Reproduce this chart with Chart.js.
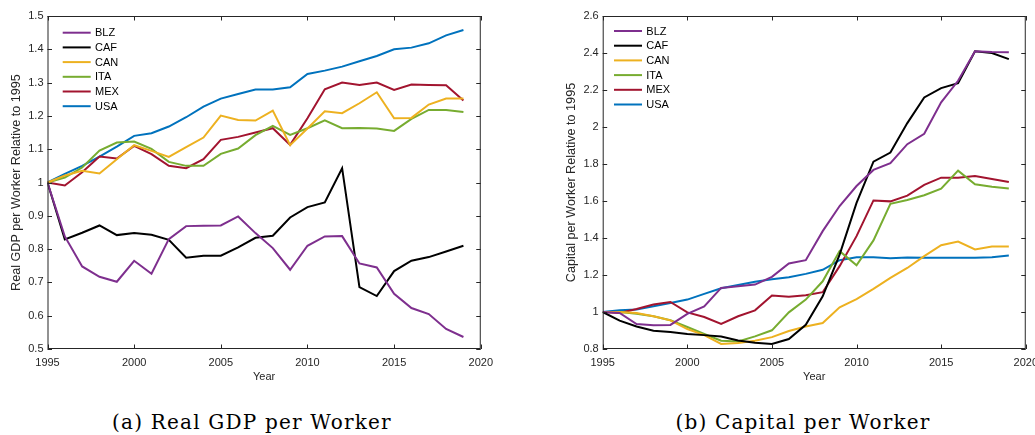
<!DOCTYPE html>
<html>
<head>
<meta charset="utf-8">
<script src="https://cdn.jsdelivr.net/npm/chart.js@4"></script>
<style>
  html, body { margin: 0; padding: 0; background: #fff; }
  body { width: 1035px; height: 435px; overflow: hidden; position: relative; }
  .panel { position: absolute; top: 0; width: 500px; height: 400px; }
  .caption {
    position: absolute; top: 410px; width: 400px; height: 25px; line-height: 25px;
    text-align: center; font-family: "DejaVu Serif", serif; font-size: 20px;
    letter-spacing: 1.2px; color: #000; white-space: nowrap;
  }
</style>
</head>
<body>
<div class="panel" style="left:0"><canvas id="gdp"></canvas></div>
<div class="panel" style="left:545px"><canvas id="capital"></canvas></div>
<div class="caption" style="left:52px">(a) Real GDP per Worker</div>
<div class="caption" style="left:603px">(b) Capital per Worker</div>
<script>
// years and countries
const years = [1995, 1996, 1997, 1998, 1999, 2000, 2001, 2002, 2003, 2004, 2005, 2006, 2007,
               2008, 2009, 2010, 2011, 2012, 2013, 2014, 2015, 2016, 2017, 2018, 2019];
const countries = ['BLZ', 'CAF', 'CAN', 'ITA', 'MEX', 'USA'];
const colores = ['#7E2F8E', '#000000', '#EDB120', '#77AC30', '#A2142F', '#0072BD'];

// real GDP per worker, 1995 = 1
const gdpBLZ = [1.000, 0.838, 0.748, 0.717, 0.702, 0.765, 0.726, 0.830, 0.869, 0.870, 0.871, 0.898, 0.848,
                0.803, 0.738, 0.810, 0.838, 0.839, 0.757, 0.745, 0.666, 0.623, 0.605, 0.560, 0.536];
const gdpCAF = [1.000, 0.829, 0.849, 0.871, 0.842, 0.848, 0.843, 0.828, 0.774, 0.780, 0.780, 0.805, 0.834,
                0.840, 0.895, 0.926, 0.940, 1.043, 0.686, 0.659, 0.734, 0.765, 0.776, 0.793, 0.810];
const gdpCAN = [1.000, 1.021, 1.035, 1.027, 1.070, 1.112, 1.095, 1.077, 1.106, 1.135, 1.201, 1.188, 1.186,
                1.216, 1.112, 1.162, 1.214, 1.208, 1.238, 1.271, 1.193, 1.194, 1.234, 1.252, 1.252];
const gdpITA = [1.000, 1.015, 1.045, 1.096, 1.120, 1.123, 1.101, 1.062, 1.050, 1.050, 1.086, 1.102, 1.142,
                1.170, 1.143, 1.163, 1.187, 1.163, 1.164, 1.162, 1.155, 1.191, 1.218, 1.218, 1.212];
const gdpMEX = [1.000, 0.991, 1.031, 1.078, 1.072, 1.110, 1.085, 1.050, 1.043, 1.070, 1.128, 1.137, 1.150,
                1.163, 1.113, 1.193, 1.280, 1.300, 1.293, 1.300, 1.278, 1.294, 1.293, 1.292, 1.246];
const gdpUSA = [1.000, 1.026, 1.050, 1.078, 1.108, 1.140, 1.148, 1.168, 1.196, 1.228, 1.252, 1.266, 1.279,
                1.279, 1.286, 1.326, 1.336, 1.348, 1.364, 1.380, 1.400, 1.405, 1.418, 1.442, 1.458];

// capital per worker, 1995 = 1
const capBLZ = [1.000, 0.995, 0.935, 0.928, 0.930, 0.990, 1.030, 1.130, 1.139, 1.148, 1.190, 1.262, 1.280,
                1.437, 1.573, 1.681, 1.768, 1.804, 1.907, 1.963, 2.133, 2.250, 2.409, 2.405, 2.404];
const capCAF = [1.000, 0.953, 0.922, 0.899, 0.892, 0.881, 0.875, 0.868, 0.846, 0.834, 0.827, 0.854, 0.931,
                1.085, 1.310, 1.590, 1.813, 1.862, 2.021, 2.160, 2.210, 2.237, 2.409, 2.400, 2.367];
const capCAN = [1.000, 1.000, 0.995, 0.977, 0.955, 0.908, 0.875, 0.827, 0.832, 0.845, 0.864, 0.897, 0.922,
                0.940, 1.025, 1.070, 1.125, 1.184, 1.238, 1.302, 1.361, 1.381, 1.338, 1.354, 1.354];
const capITA = [1.000, 1.000, 0.991, 0.977, 0.955, 0.919, 0.881, 0.845, 0.841, 0.868, 0.901, 0.998, 1.067,
                1.166, 1.329, 1.253, 1.387, 1.585, 1.605, 1.631, 1.667, 1.764, 1.690, 1.677, 1.668];
const capMEX = [1.000, 0.995, 1.016, 1.040, 1.054, 0.998, 0.973, 0.935, 0.977, 1.009, 1.089, 1.083, 1.090,
                1.107, 1.248, 1.410, 1.603, 1.598, 1.629, 1.687, 1.726, 1.726, 1.735, 1.719, 1.703];
const capUSA = [1.000, 1.009, 1.014, 1.031, 1.049, 1.067, 1.098, 1.128, 1.146, 1.163, 1.177, 1.188, 1.206,
                1.228, 1.280, 1.296, 1.296, 1.291, 1.294, 1.293, 1.293, 1.293, 1.293, 1.296, 1.305];

// axis ranges
const xTicks = [1995, 2000, 2005, 2010, 2015, 2020];
const gdpRange = [0.5, 1.5, 0.1];
const capRange = [0.8, 2.6, 0.2];

const AXIS = '#262626';
const FONT = '"Liberation Sans", Arial, sans-serif';

// box around the plot with ticks pointing inwards, plus the legend in the top-left corner
const marcoMatlab = {
    id: 'marcoMatlab',
    afterDatasetsDraw(chart, args, opts) {
        const {ctx, chartArea: a, scales} = chart;
        const largo = 4.5;
        ctx.save();
        ctx.strokeStyle = AXIS;
        ctx.lineWidth = 1;
        ctx.strokeRect(a.left + 0.5, a.top + 0.5, a.right - a.left - 1, a.bottom - a.top - 1);
        ctx.beginPath();
        scales.x.ticks.forEach(t => {
            const px = Math.round(scales.x.getPixelForValue(t.value)) + 0.5;
            ctx.moveTo(px, a.bottom); ctx.lineTo(px, a.bottom - largo);
            ctx.moveTo(px, a.top); ctx.lineTo(px, a.top + largo);
        });
        scales.y.ticks.forEach(t => {
            const py = Math.round(scales.y.getPixelForValue(t.value)) + 0.5;
            ctx.moveTo(a.left, py); ctx.lineTo(a.left + largo, py);
            ctx.moveTo(a.right, py); ctx.lineTo(a.right - largo, py);
        });
        ctx.stroke();

        // legend
        ctx.font = '11px ' + FONT;
        ctx.textBaseline = 'middle';
        ctx.textAlign = 'left';
        chart.data.datasets.forEach((ds, i) => {
            const y = a.top + opts.top + i * 14.7;
            ctx.strokeStyle = ds.borderColor;
            ctx.lineWidth = 2;
            ctx.beginPath();
            ctx.moveTo(a.left + opts.left, y);
            ctx.lineTo(a.left + opts.left + 28, y);
            ctx.stroke();
            ctx.fillStyle = '#000';
            ctx.fillText(ds.label, a.left + opts.left + 32.3, y + 0.5);
        });
        ctx.restore();
    }
};

function graficar(id, series, rango, titulo, ancho, tituloPad, leyenda) {
    new Chart(document.getElementById(id), {
        type: 'line',
        data: {
            labels: years,
            datasets: countries.map((c, i) => ({
                label: c,
                data: series[i],
                borderColor: colores[i],
                backgroundColor: colores[i],
                borderWidth: 2,
                pointRadius: 0,
                tension: 0,
                fill: false
            }))
        },
        options: {
            responsive: true,
            maintainAspectRatio: false,
            animation: false,
            layout: { padding: { top: 16, right: 500 - 16 - ancho - 423.5, left: 0, bottom: 0 } },
            plugins: {
                legend: { display: false },
                tooltip: { enabled: false },
                marcoMatlab: leyenda
            },
            scales: {
                x: {
                    type: 'linear',
                    min: xTicks[0],
                    max: xTicks[xTicks.length - 1],
                    afterBuildTicks: s => { s.ticks = xTicks.map(v => ({value: v})); },
                    afterFit: s => { s.height = 51; },
                    grid: { display: false, drawTicks: false },
                    border: { display: false },
                    ticks: {
                        color: AXIS, font: { family: FONT, size: 11 }, padding: 7,
                        maxRotation: 0, autoSkip: false,
                        callback: v => String(v)
                    },
                    title: {
                        display: true, text: 'Year', color: AXIS,
                        font: { family: FONT, size: 11 },
                        padding: { top: 0, bottom: 16.5 }
                    }
                },
                y: {
                    min: rango[0],
                    max: rango[1],
                    afterFit: s => { s.width = ancho; },
                    grid: { display: false, drawTicks: false },
                    border: { display: false },
                    ticks: {
                        stepSize: rango[2], color: AXIS, font: { family: FONT, size: 11 }, padding: 4,
                        callback: v => String(Number(v.toFixed(1)))
                    },
                    title: {
                        display: true, text: titulo, color: AXIS,
                        font: { family: FONT, size: 12.6 },
                        padding: { top: tituloPad, bottom: 0 }
                    }
                }
            }
        },
        plugins: [marcoMatlab]
    });
}

graficar('gdp', [gdpBLZ, gdpCAF, gdpCAN, gdpITA, gdpMEX, gdpUSA], gdpRange,
    'Real GDP per Worker Relative to 1995', 47.5, 9.4, { left: 15.2, top: 16.7 });
graficar('capital', [capBLZ, capCAF, capCAN, capITA, capMEX, capUSA], capRange,
    'Capital per Worker Relative to 1995', 57.7, 19.4, { left: 11.3, top: 15 });
</script>
</body>
</html>
